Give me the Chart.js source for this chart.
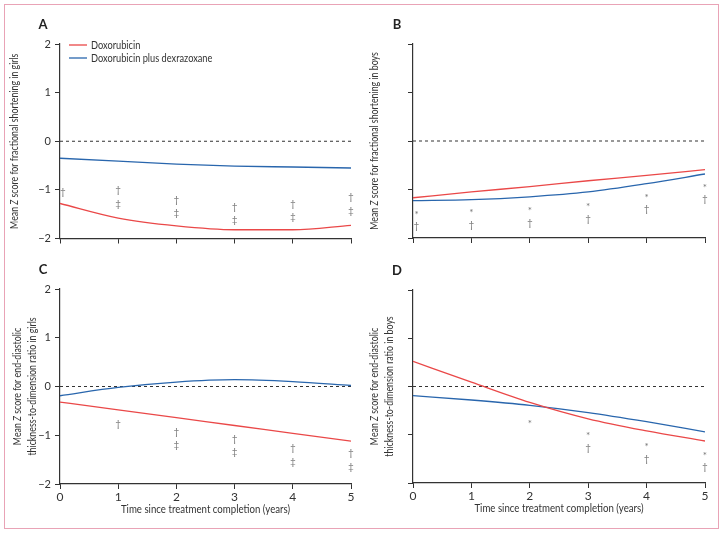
<!DOCTYPE html>
<html>
<head>
<meta charset="utf-8">
<script src="https://cdn.jsdelivr.net/npm/chart.js@4.4.1/dist/chart.umd.min.js"></script>
<style>
  html, body { margin: 0; padding: 0; background: #fff; }
  #wrap { position: relative; width: 724px; height: 533px; }
  #frame { position: absolute; left: 4px; top: 4px; width: 713px; height: 523px; border: 1px solid #e9a3b6; }
  canvas { position: absolute; }
</style>
</head>
<body>
<div id="wrap">
  <div id="frame"></div>
  <canvas id="chartA" width="362" height="260" style="left:0;top:0"></canvas>
  <canvas id="chartB" width="362" height="260" style="left:362px;top:0"></canvas>
  <canvas id="chartC" width="362" height="273" style="left:0;top:260px"></canvas>
  <canvas id="chartD" width="362" height="273" style="left:362px;top:260px"></canvas>
</div>
<script>
// years since treatment completion
const years = [0, 1, 2, 3, 4, 5];

// mean Z scores
const redA = [-1.28, -1.58, -1.74, -1.82, -1.82, -1.73];
const blueA = [-0.35, -0.41, -0.47, -0.51, -0.53, -0.55];
const redB = [-1.17, -1.05, -0.94, -0.82, -0.71, -0.59];
const blueB = [-1.23, -1.21, -1.15, -1.05, -0.88, -0.68];
const redC = [-0.32, -0.48, -0.64, -0.80, -0.96, -1.12];
const blueC = [-0.19, -0.02, 0.09, 0.14, 0.10, 0.02];
const redD = [0.52, 0.09, -0.33, -0.67, -0.92, -1.13];
const blueD = [-0.19, -0.28, -0.39, -0.54, -0.73, -0.94];

// significance marks: [year, z, symbol]
const marksA = [[0.05, -1.03, "†"], [1, -1.0, "†"], [1, -1.29, "‡"], [2, -1.2, "†"], [2, -1.48, "‡"],
  [3, -1.34, "†"], [3, -1.62, "‡"], [4, -1.29, "†"], [4, -1.56, "‡"], [5, -1.14, "†"], [5, -1.42, "‡"]];
const marksB = [[0.06, -1.45, "*"], [0.06, -1.75, "†"], [1, -1.42, "*"], [1, -1.73, "†"], [2, -1.38, "*"], [2, -1.68, "†"],
  [3, -1.30, "*"], [3, -1.60, "†"], [4, -1.11, "*"], [4, -1.40, "†"], [5, -0.90, "*"], [5, -1.19, "†"]];
const marksC = [[1, -0.76, "†"], [2, -0.92, "†"], [2, -1.20, "‡"], [3, -1.07, "†"], [3, -1.34, "‡"],
  [4, -1.26, "†"], [4, -1.54, "‡"], [5, -1.36, "†"], [5, -1.65, "‡"]];
const marksD = [[2, -0.71, "*"], [3, -0.96, "*"], [3, -1.27, "†"], [4, -1.19, "*"], [4, -1.50, "†"], [5, -1.37, "*"], [5, -1.66, "†"]];

const yTicks = [-2, -1, 0, 1, 2];
const seriesNames = ["Doxorubicin", "Doxorubicin plus dexrazoxane"];

const RED = "#ea4848";
const BLUE = "#2966ad";
const INK = "#333";
const FONT = "Lato, 'Open Sans', sans-serif";
const SQUEEZE = 0.84; // the original type is a condensed face

// text drawn narrower along its own direction
function narrowText(ctx, parts, x, y, align) {
  let w = 0;
  parts.forEach(p => { ctx.font = p.f; w += ctx.measureText(p.t).width; });
  let start = align === "center" ? -w / 2 : 0;
  ctx.save();
  ctx.translate(x, y);
  ctx.scale(SQUEEZE, 1);
  ctx.textAlign = "left";
  parts.forEach(p => {
    ctx.font = p.f;
    ctx.fillText(p.t, start, 0);
    start += ctx.measureText(p.t).width;
  });
  ctx.restore();
}

function pts(vals) {
  return years.map((x, i) => ({ x: x, y: vals[i] }));
}

// draws titles, panel letter, marks and legend
const extras = {
  id: "extras",
  afterDatasetsDraw(chart, args, o) {
    const ctx = chart.ctx;
    const a = chart.chartArea;
    const xs = chart.scales.x, ys = chart.scales.y;
    ctx.save();

    // panel letter
    ctx.fillStyle = "#222";
    ctx.font = "bold 13px " + FONT;
    ctx.textAlign = "center";
    ctx.textBaseline = "middle";
    ctx.fillText(o.letter, a.left - o.letterDx, a.top - 19);

    // significance marks
    ctx.fillStyle = "#777";
    ctx.font = "10px " + FONT;
    o.marks.forEach(m => {
      const dy = m[2] === "*" ? 3 : 0;
      ctx.fillText(m[2], xs.getPixelForValue(m[0]), ys.getPixelForValue(m[1]) + dy);
    });

    // y axis title (rotated, italic Z)
    ctx.fillStyle = INK;
    ctx.textBaseline = "middle";
    const cy = (a.top + a.bottom) / 2;
    o.yTitle.forEach((parts, i) => {
      ctx.save();
      ctx.translate(a.left - o.yTitleDx[i], cy);
      ctx.rotate(-Math.PI / 2);
      narrowText(ctx, parts.map(p => ({ t: p.t, f: (p.it ? "italic " : "") + "10.5px " + FONT })), 0, 0, "center");
      ctx.restore();
    });

    // x axis title
    if (o.xTitle) {
      narrowText(ctx, [{ t: o.xTitle, f: "11.5px " + FONT }], (a.left + a.right) / 2, a.bottom + 25, "center");
    }

    // legend
    if (o.legend) {
      chart.data.datasets.slice(0, 2).forEach((ds, i) => {
        const y = a.top + 1 + i * 13;
        ctx.strokeStyle = ds.borderColor;
        ctx.lineWidth = 1.3;
        ctx.beginPath();
        ctx.moveTo(a.left + 9, y);
        ctx.lineTo(a.left + 27, y);
        ctx.stroke();
        ctx.fillStyle = INK;
        narrowText(ctx, [{ t: ds.label, f: "11px " + FONT }], a.left + 31, y, "left");
      });
    }
    ctx.restore();
  }
};

function makeChart(id, red, blue, opts) {
  const fmt = v => (v < 0 ? "\u2212" + Math.abs(v) : String(v));
  return new Chart(document.getElementById(id), {
    type: "line",
    data: {
      datasets: [
        { label: seriesNames[0], data: pts(red), borderColor: RED, borderWidth: 1.3, pointRadius: 0, cubicInterpolationMode: "monotone" },
        { label: seriesNames[1], data: pts(blue), borderColor: BLUE, borderWidth: 1.3, pointRadius: 0, cubicInterpolationMode: "monotone" },
        { label: "zero", data: [{ x: years[0], y: 0 }, { x: years[years.length - 1], y: 0 }], borderColor: INK, borderWidth: 1, borderDash: [3, 3], pointRadius: 0 }
      ]
    },
    options: {
      responsive: false,
      animation: false,
      devicePixelRatio: 1,
      layout: { padding: { left: 0, right: opts.padRight, top: opts.padTop, bottom: 0 } },
      plugins: {
        legend: { display: false },
        tooltip: { enabled: false },
        extras: opts.extras
      },
      scales: {
        x: {
          type: "linear", min: 0, max: 5,
          afterBuildTicks: s => { s.ticks = years.map(v => ({ value: v })); },
          ticks: { display: opts.xLabels, color: INK, font: { family: FONT, size: 12 }, padding: 1 },
          grid: { display: true, drawOnChartArea: false, drawTicks: true, tickLength: 5, color: INK, lineWidth: 1 },
          border: { display: true, color: INK, width: 1.2 },
          afterFit: s => { s.height = opts.xHeight; }
        },
        y: {
          min: -2, max: 2,
          afterBuildTicks: s => { s.ticks = yTicks.map(v => ({ value: v })); },
          ticks: { display: opts.yLabels, color: INK, font: { family: FONT, size: 11 }, padding: 4, callback: fmt },
          grid: { display: true, drawOnChartArea: false, drawTicks: true, tickLength: 5, color: INK, lineWidth: 1 },
          border: { display: true, color: INK, width: 1.2 },
          afterFit: s => { s.width = opts.yWidth; }
        }
      }
    },
    plugins: [extras]
  });
}

makeChart("chartA", redA, blueA, {
  padRight: 11, padTop: 44, xHeight: 21.5, yWidth: 60, xLabels: false, yLabels: true,
  extras: {
    letter: "A", letterDx: 17, marks: marksA, legend: true,
    yTitle: [[{ t: "Mean " }, { t: "Z", it: true }, { t: " score for fractional shortening in girls" }]],
    yTitleDx: [45]
  }
});
makeChart("chartB", redB, blueB, {
  padRight: 19, padTop: 44, xHeight: 22, yWidth: 51, xLabels: false, yLabels: false,
  extras: {
    letter: "B", letterDx: 16, marks: marksB, legend: false,
    yTitle: [[{ t: "Mean " }, { t: "Z", it: true }, { t: " score for fractional shortening in boys" }]],
    yTitleDx: [38]
  }
});
makeChart("chartC", redC, blueC, {
  padRight: 11, padTop: 29, xHeight: 49, yWidth: 60, xLabels: true, yLabels: true,
  extras: {
    letter: "C", letterDx: 17, marks: marksC, legend: false, xTitle: "Time since treatment completion (years)",
    yTitle: [[{ t: "Mean " }, { t: "Z", it: true }, { t: " score for end-diastolic" }], [{ t: "thickness-to-dimension ratio in girls" }]],
    yTitleDx: [42, 27]
  }
});
makeChart("chartD", redD, blueD, {
  padRight: 19, padTop: 30, xHeight: 50, yWidth: 51, xLabels: true, yLabels: false,
  extras: {
    letter: "D", letterDx: 16, marks: marksD, legend: false, xTitle: "Time since treatment completion (years)",
    yTitle: [[{ t: "Mean " }, { t: "Z", it: true }, { t: " score for end-diastolic" }], [{ t: "thickness-to-dimension ratio in boys" }]],
    yTitleDx: [38, 23]
  }
});
</script>
</body>
</html>
